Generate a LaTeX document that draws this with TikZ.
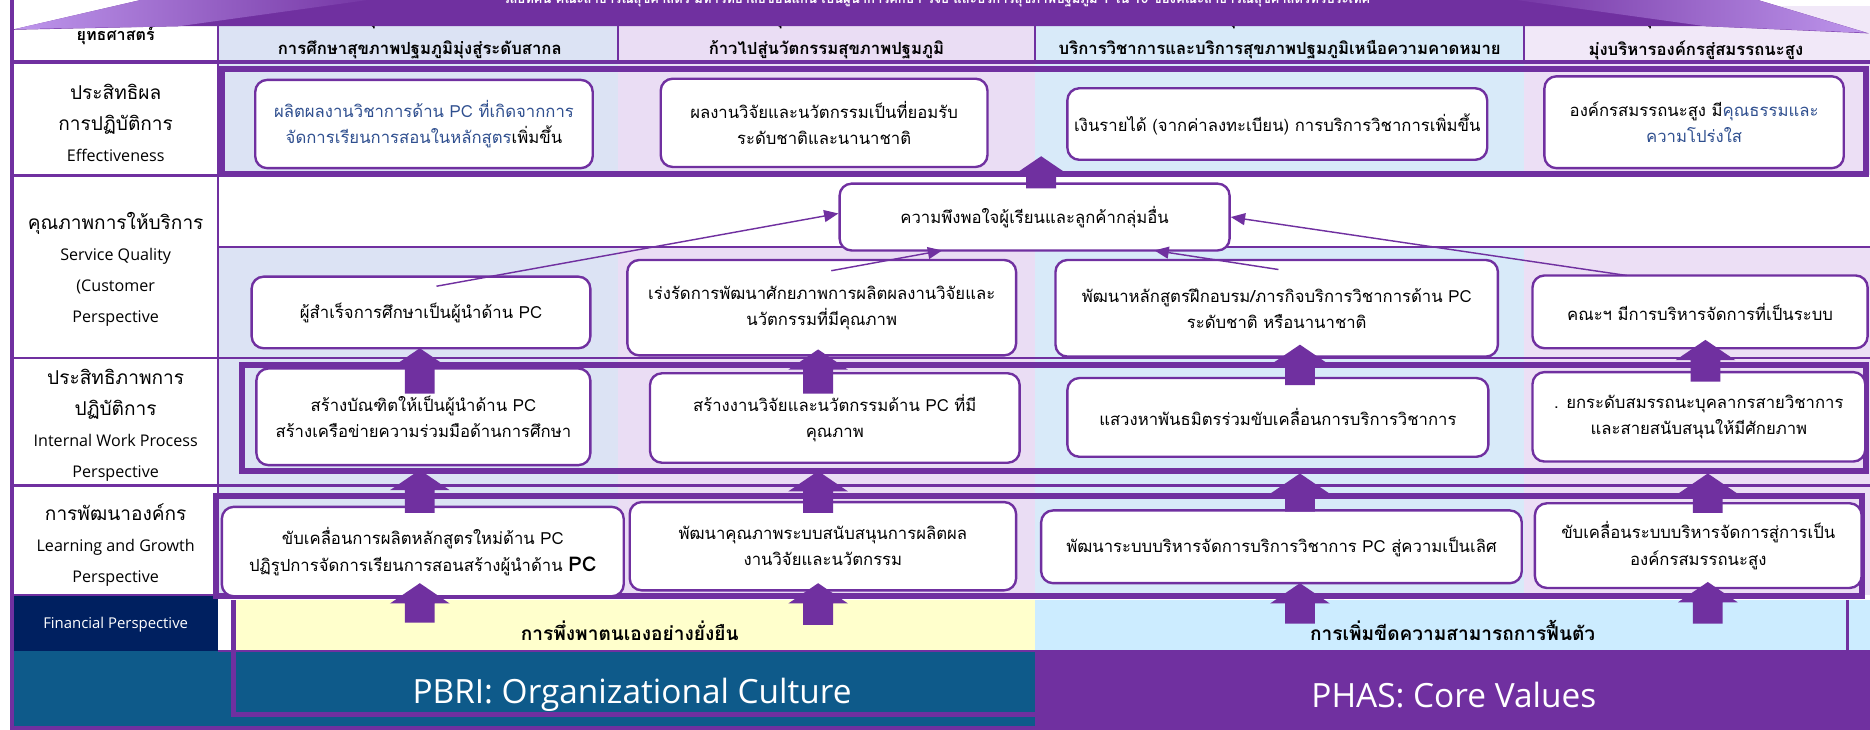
\documentclass[tikz,border=0pt]{standalone}
\usepackage{fontspec}
\setmainfont[Script=Thai]{Loma}
\newfontfamily\osans{Open Sans}
\usetikzlibrary{arrows.meta,calc}
\definecolor{pur}{HTML}{7030A0}
\definecolor{lila}{HTML}{BE96EC}
\definecolor{cA}{HTML}{DCE3F4}
\definecolor{cB}{HTML}{EADDF4}
\definecolor{cC}{HTML}{D8EAF9}
\definecolor{cD}{HTML}{ECDFF5}
\definecolor{hD}{HTML}{F1E8F8}
\definecolor{tealc}{HTML}{0E5A8A}
\definecolor{navyc}{HTML}{002060}
\definecolor{yelc}{HTML}{FFFFCC}
\definecolor{lblc}{HTML}{CCECFF}
\definecolor{tblue}{HTML}{2F4F8F}
\newcommand\stratbox[6]{%
  \pgfmathsetmacro\bcx{(#2+#4)/2}%
  \pgfmathsetmacro\bcy{(#3+#5)/2}%
  \pgfmathsetmacro\bw{#4-#2}%
  \pgfmathsetmacro\bh{#5-#3}%
  \node[rbx,minimum width=\bw pt,minimum height=\bh pt] (#1) at (\bcx,\bcy) {#6};}
\newcommand\blockup[2]{%
  \fill[pur] let \p1=(#1), \p2=(#2) in
    (\x1-12.5pt,\y1) -- (\x1-12.5pt,\y2-17pt) -- (\x1-25pt,\y2-17pt) -- (\x1,\y2)
    -- (\x1+25pt,\y2-17pt) -- (\x1+12.5pt,\y2-17pt) -- (\x1+12.5pt,\y1) -- cycle;}
\newcommand\engl[1]{{\osans\fontsize{13.5}{26}\selectfont #1}}
\tikzset{
  rbx/.style={draw=pur, line width=2pt, rounded corners=10pt, fill=white, align=center,
    inner sep=2pt, font=\fontsize{14}{22}\selectfont},
  gridl/.style={draw=pur, line width=2pt},
  frame/.style={draw=pur, line width=5pt},
  lbl/.style={align=center, font=\fontsize{16}{26}\selectfont},
  hdr/.style={font=\bfseries\fontsize{14}{16}\selectfont},
  thinarr/.style={draw=pur, line width=1.2pt, -{Triangle[length=12pt,width=10pt]}},
}
\begin{document}
\begin{tikzpicture}[x=1pt,y=-1pt]
\clip (0,0) rectangle (1568,612);
\fill[white] (0,0) rectangle (1568,612);
% header backgrounds
\fill[cA] (183,5) rectangle (518,52);
\fill[cB] (518,5) rectangle (868,52);
\fill[cC] (868,5) rectangle (1278,52);
\fill[hD] (1278,5) rectangle (1568,52);
% body backgrounds
\fill[cA] (183,52) rectangle (518,499);
\fill[cB] (518,52) rectangle (868,499);
\fill[cC] (868,52) rectangle (1278,499);
\fill[cD] (1278,52) rectangle (1568,499);
\fill[white] (183,147) rectangle (1568,207);
% financial row
\fill[navyc] (10,499) rectangle (183,546);
\fill[yelc] (196,503) rectangle (868,546);
\fill[lblc] (868,503) rectangle (1568,546);
% bottom band
\fill[tealc] (10,546) rectangle (868,612);
\fill[pur] (868,546) rectangle (1568,612);
% grid lines
\draw[gridl] (183,0) -- (183,499);
\draw[gridl] (518,0) -- (518,52);
\draw[gridl] (868,0) -- (868,52);
\draw[gridl] (1278,0) -- (1278,52);
\draw[pur,line width=3pt] (10,52) -- (1568,52);
\draw[gridl] (10,147) -- (183,147);
\draw[gridl] (183,207) -- (1568,207);
\draw[gridl] (10,300) -- (1568,300);
\draw[gridl] (10,407) -- (1568,407);
\draw[gridl] (10,499) -- (183,499);
\draw[gridl] (183,546) -- (1568,546);
\draw[pur,line width=3pt] (1549,503) -- (1549,546);
\draw[pur,line width=4pt] (10,0) -- (10,612);
\draw[pur,line width=3pt] (10,610.5) -- (868,610.5);
% frames
\draw[frame] (186,58) rectangle (1565,146);
\draw[frame] (203,306) rectangle (1565,395);
\draw[frame] (181,416) rectangle (1561,500);
\draw[pur,line width=4pt] (868,599) -- (196,599) -- (196,503);
% left labels
\node[font=\bfseries\fontsize{13.5}{16}\selectfont] (hstrat) at (97,30) {ยุทธศาสตร์};
\node[lbl] (l1) at (97,103) {ประสิทธิผล\\การปฏิบัติการ\\\engl{Effectiveness}};
\node[lbl] (l2) at (97,226) {คุณภาพการให้บริการ\\\engl{Service Quality}\\\engl{(Customer}\\\engl{Perspective}};
\node[lbl] (l3) at (97,357) {ประสิทธิภาพการ\\ปฏิบัติการ\\\engl{Internal Work Process}\\\engl{Perspective}};
\node[lbl] (l4) at (97,457) {การพัฒนาองค์กร\\\engl{Learning and Growth}\\\engl{Perspective}};
\node[text=white, font=\osans\fontsize{12.5}{14}\selectfont] (lfin) at (97,524) {Financial Perspective};
% header texts
\node[hdr] (h1a) at (352,15) {ยุทธศาสตร์ที่ 1};
\node[hdr] (h2a) at (693,15) {ยุทธศาสตร์ที่ 2};
\node[hdr] (h3a) at (1073,15) {ยุทธศาสตร์ที่ 3};
\node[hdr] (h4a) at (1422,15) {ยุทธศาสตร์ที่ 4};
\node[hdr] (h1) at (352,42) {การศึกษาสุขภาพปฐมภูมิมุ่งสู่ระดับสากล};
\node[hdr] (h2) at (693,42) {ก้าวไปสู่นวัตกรรมสุขภาพปฐมภูมิ};
\node[hdr] (h3) at (1073,42) {บริการวิชาการและบริการสุขภาพปฐมภูมิเหนือความคาดหมาย};
\node[hdr] (h4) at (1422,42) {มุ่งบริหารองค์กรสู่สมรรถนะสูง};
% row 1 boxes
\stratbox{B11}{214}{67}{497}{141}{\color{tblue}ผลิตผลงานวิชาการด้าน PC ที่เกิดจากการ\\\color{tblue}จัดการเรียนการสอนในหลักสูตร\color{black}เพิ่มขึ้น}
\stratbox{B12}{554}{66}{828}{140}{ผลงานวิจัยและนวัตกรรมเป็นที่ยอมรับ\\ระดับชาติและนานาชาติ}
\stratbox{B13}{895}{74}{1247}{134}{เงินรายได้ (จากค่าลงทะเบียน) การบริการวิชาการเพิ่มขึ้น}
\stratbox{B14}{1295}{64}{1546}{141}{องค์กรสมรรถนะสูง มี\textcolor{tblue}{คุณธรรมและ}\\\color{tblue}ความโปร่งใส}
% row 2 boxes
\stratbox{SAT}{704}{154}{1031}{210}{ความพึงพอใจผู้เรียนและลูกค้ากลุ่มอื่น}
\stratbox{B21}{211}{232}{495}{292}{ผู้สำเร็จการศึกษาเป็นผู้นำด้าน PC}
\stratbox{B22}{526}{218}{852}{298}{เร่งรัดการพัฒนาศักยภาพการผลิตผลงานวิจัยและ\\นวัตกรรมที่มีคุณภาพ}
\stratbox{B23}{885}{218}{1256}{299}{พัฒนาหลักสูตรฝึกอบรม/ภารกิจบริการวิชาการด้าน PC\\ระดับชาติ หรือนานาชาติ}
\stratbox{B24}{1285}{231}{1566}{292}{คณะฯ มีการบริหารจัดการที่เป็นระบบ}
% row 3 boxes
\stratbox{B31}{215}{309}{495}{390}{สร้างบัณฑิตให้เป็นผู้นำด้าน PC\\สร้างเครือข่ายความร่วมมือด้านการศึกษา}
\stratbox{B32}{545}{313}{855}{388}{สร้างงานวิจัยและนวัตกรรมด้าน PC ที่มี\\คุณภาพ}
\stratbox{B33}{895}{317}{1248}{383}{แสวงหาพันธมิตรร่วมขับเคลื่อนการบริการวิชาการ}
\stratbox{B34}{1285}{312}{1564}{387}{. ยกระดับสมรรถนะบุคลากรสายวิชาการ\\และสายสนับสนุนให้มีศักยภาพ}
% row 4 boxes
\stratbox{B41}{186}{425}{523}{500}{ขับเคลื่อนการผลิตหลักสูตรใหม่ด้าน PC\\ปฏิรูปการจัดการเรียนการสอนสร้างผู้นำด้าน {\bfseries\fontsize{17}{22}\selectfont PC}}
\stratbox{B42}{528}{421}{852}{495}{พัฒนาคุณภาพระบบสนับสนุนการผลิตผล\\งานวิจัยและนวัตกรรม}
\stratbox{B43}{873}{428}{1276}{489}{พัฒนาระบบบริหารจัดการบริการวิชาการ PC สู่ความเป็นเลิศ}
\stratbox{B44}{1287}{422}{1561}{493}{ขับเคลื่อนระบบบริหารจัดการสู่การเป็น\\องค์กรสมรรถนะสูง}
% financial and bottom texts
\node[font=\bfseries\fontsize{16}{18}\selectfont] (fin1) at (528,529) {การพึ่งพาตนเองอย่างยั่งยืน};
\node[font=\bfseries\fontsize{16}{18}\selectfont] (fin2) at (1218,529) {การเพิ่มขีดความสามารถการฟื้นตัว};
\node[text=white, font=\osans\fontsize{28}{32}\selectfont] (pbri) at (530,583) {PBRI: Organizational Culture};
\node[text=white, font=\osans\fontsize{28}{32}\selectfont] (phas) at (1219,583) {PHAS: Core Values};
% block arrow coordinates
\coordinate (f1b) at (352,522); \coordinate (f1t) at (352,489);
\coordinate (f2b) at (686,524); \coordinate (f2t) at (686,489);
\coordinate (f3b) at (1090,523); \coordinate (f3t) at (1090,489);
\coordinate (f4b) at (1432,523); \coordinate (f4t) at (1432,488);
\coordinate (a41b) at (352,430); \coordinate (a41t) at (352,394);
\coordinate (a42b) at (686,430); \coordinate (a42t) at (686,395);
\coordinate (a43b) at (1090,429); \coordinate (a43t) at (1090,397);
\coordinate (a44b) at (1432,430); \coordinate (a44t) at (1432,397);
\coordinate (a31b) at (352,330); \coordinate (a31t) at (352,292);
\coordinate (a32b) at (686,330); \coordinate (a32t) at (686,293);
\coordinate (a33b) at (1090,323); \coordinate (a33t) at (1090,289);
\coordinate (a34b) at (1430,320); \coordinate (a34t) at (1430,285);
\coordinate (asb) at (873,158); \coordinate (ast) at (873,131);
\blockup{f1b}{f1t}\blockup{f2b}{f2t}\blockup{f3b}{f3t}\blockup{f4b}{f4t}
\blockup{a41b}{a41t}\blockup{a42b}{a42t}\blockup{a43b}{a43t}\blockup{a44b}{a44t}
\blockup{a31b}{a31t}\blockup{a32b}{a32t}\blockup{a33b}{a33t}\blockup{a34b}{a34t}
\blockup{asb}{ast}
% thin arrows
\coordinate (t1s) at (366,240);
\coordinate (t2s) at (697,227); \coordinate (t2e) at (790,210);
\coordinate (t3s) at (1072,226); \coordinate (t3e) at (968,210);
\coordinate (t4s) at (1364,231);
\draw[thinarr] (t1s) -- ([yshift=3pt]SAT.west);
\draw[thinarr] (t2s) -- (t2e);
\draw[thinarr] (t3s) -- (t3e);
\draw[thinarr] (t4s) -- (SAT.east);
% banner
\fill[pur] (10,25) -- (131,-3) -- (1464,-3) -- (1567,28) -- (1430,22) -- (150,22) -- cycle;
\shade[left color=lila, right color=pur] (12,24.5) -- (131,-3) -- (330,-3) -- (150,22) -- cycle;
\shade[left color=pur, right color=lila] (1565,27.5) -- (1464,-3) -- (1250,-3) -- (1430,22) -- cycle;
\node[text=white, anchor=base, font=\bfseries\fontsize{11}{13}\selectfont] (banner) at (785,3) {วิสัยทัศน์ คณะสาธารณสุขศาสตร์ มหาวิทยาลัยขอนแก่น เป็นผู้นำการศึกษา วิจัย และบริการสุขภาพปฐมภูมิ 1 ใน 10 ของคณะสาธารณสุขศาสตร์ทั่วประเทศ};
\end{tikzpicture}
\end{document}
